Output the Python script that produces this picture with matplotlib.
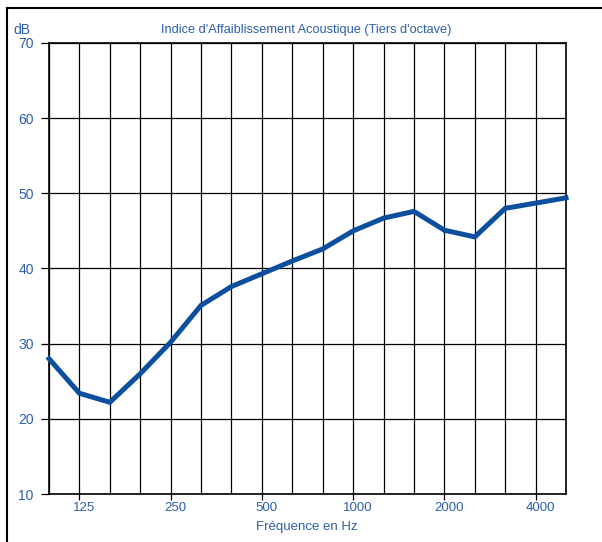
import matplotlib
matplotlib.use("Agg")
import matplotlib.pyplot as plt
import matplotlib.transforms as mtransforms
from matplotlib.lines import Line2D

plt.rcParams["font.family"] = ["Liberation Sans", "DejaVu Sans"]

# third-octave bands, 100 Hz .. 5000 Hz
freqs = [100, 125, 160, 200, 250, 315, 400, 500, 630, 800,
         1000, 1250, 1600, 2000, 2500, 3150, 4000, 5000]
rw_db = [28.0, 23.4, 22.2, 26.0, 30.2, 35.1, 37.6, 39.3, 41.0, 42.6,
         45.0, 46.7, 47.6, 45.1, 44.2, 48.0, 48.7, 49.4]
labelled = [125, 250, 500, 1000, 2000, 4000]
y_ticks = [10, 20, 30, 40, 50, 60, 70]

TXT = "#2c5fab"
LINE = "#0c4f9e"

W, H = 602, 542
fig = plt.figure(figsize=(W / 100, H / 100), dpi=100)
ax = fig.add_axes([49 / W, 1 - 494 / H, (566 - 49) / W, (494 - 43) / H])

xs = list(range(len(freqs)))
ax.plot(xs, rw_db, color=LINE, lw=3.6, solid_joinstyle="miter", clip_on=False, zorder=3)

ax.set_xlim(0, len(freqs) - 1)
ax.set_ylim(10, 70)

# grid: every band + every 10 dB
for x in xs:
    ax.axvline(x, color="black", lw=0.9, zorder=1)
for y in y_ticks:
    ax.axhline(y, color="black", lw=0.9, zorder=1)

ax.set_yticks(y_ticks)
ax.set_yticklabels([str(v) for v in y_ticks], color=TXT, fontsize=10)
ax.tick_params(axis="y", length=6, width=0.9, pad=5, colors="black", labelcolor=TXT)

# x labels sit a little right of their tick, as in the original
pos = [freqs.index(f) for f in labelled]
ax.set_xticks(pos)
ax.set_xticklabels([])
ax.tick_params(axis="x", length=4, width=0.9, colors="black")
trans = mtransforms.blended_transform_factory(ax.transData, ax.transAxes) + \
    mtransforms.ScaledTranslation(5 / 100, -14 / 100, fig.dpi_scale_trans)
for p, f in zip(pos, labelled):
    ax.text(p, 0, str(f), transform=trans, ha="center", va="center",
            color=TXT, fontsize=9.5)

for s in ax.spines.values():
    s.set_linewidth(1.2)

fig.text(306 / W, 1 - 30 / H, "Indice d'Affaiblissement Acoustique (Tiers d'octave)",
         ha="center", va="center", color=TXT, fontsize=9.2)
fig.text(22 / W, 1 - 30 / H, "dB", ha="center", va="center", color=TXT, fontsize=10)
fig.text(307 / W, 1 - 527 / H, "Fréquence en Hz", ha="center", va="center", color=TXT, fontsize=9.5)

# outer frame (only top and left edges fall inside the image)
fig.add_artist(Line2D([7 / W, 1.0], [1 - 8 / H, 1 - 8 / H], color="black", lw=1.5))
fig.add_artist(Line2D([7 / W, 7 / W], [0.0, 1 - 8 / H], color="black", lw=1.5))

fig.savefig("out.png", dpi=100, facecolor="white")
